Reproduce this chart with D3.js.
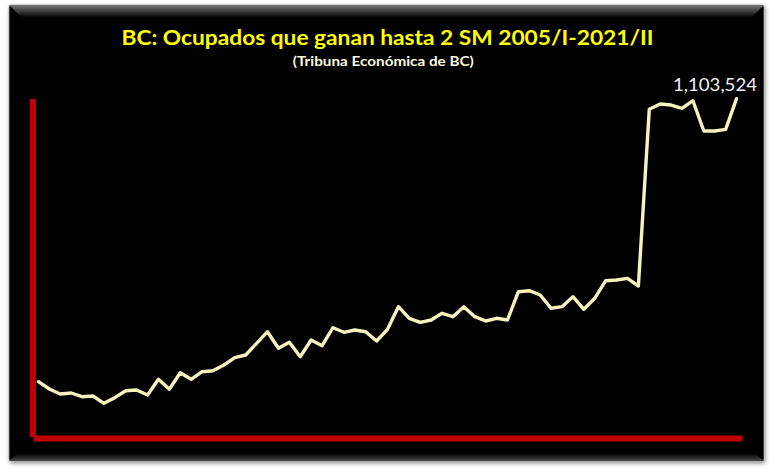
<!DOCTYPE html>
<html lang="es">
<head>
<meta charset="utf-8">
<title>BC: Ocupados que ganan hasta 2 SM</title>
<script src="https://cdn.jsdelivr.net/npm/d3@7"></script>
<style>
  html, body { margin: 0; padding: 0; background: #ffffff; }
  svg { display: block; }
</style>
</head>
<body>
<div id="chart"></div>
<script>
// trimestres 2005/I - 2021/II (no hay dato de 2020/II)
const periodos = [
  "2005/I","2005/II","2005/III","2005/IV",
  "2006/I","2006/II","2006/III","2006/IV",
  "2007/I","2007/II","2007/III","2007/IV",
  "2008/I","2008/II","2008/III","2008/IV",
  "2009/I","2009/II","2009/III","2009/IV",
  "2010/I","2010/II","2010/III","2010/IV",
  "2011/I","2011/II","2011/III","2011/IV",
  "2012/I","2012/II","2012/III","2012/IV",
  "2013/I","2013/II","2013/III","2013/IV",
  "2014/I","2014/II","2014/III","2014/IV",
  "2015/I","2015/II","2015/III","2015/IV",
  "2016/I","2016/II","2016/III","2016/IV",
  "2017/I","2017/II","2017/III","2017/IV",
  "2018/I","2018/II","2018/III","2018/IV",
  "2019/I","2019/II","2019/III","2019/IV",
  "2020/I","2020/III","2020/IV",
  "2021/I","2021/II"
];

// ocupados que ganan hasta 2 salarios minimos (estimado de la grafica)
const ocupados = [
  347700, 328200, 314800, 317500,
  307600, 309500, 290000, 305000,
  323600, 325500, 312200, 354100,
  327400, 371700, 354100, 374400,
  377100, 392300, 411800, 419000,
  450200, 481200, 436900, 452900,
  414400, 459000, 443800, 491900,
  479600, 485800, 481200, 456400,
  487600, 548000, 517000, 506300,
  512500, 530400, 521300, 548000,
  521300, 509800, 517000, 512500,
  588000, 590700, 579200, 543700,
  548000, 574700, 541000, 570400,
  617400, 619300, 623800, 603300,
  1075200, 1089300, 1086600, 1077800,
  1098100, 1017200, 1017200,
  1021700, 1103524
];

const yDominio = [200000, 1100000];

const W = 774, H = 474;

const svg = d3.select("#chart").append("svg")
  .attr("width", W)
  .attr("height", H);

const defs = svg.append("defs");

defs.append("filter")
  .attr("id", "sombra")
  .attr("x", "-5%").attr("y", "-5%")
  .attr("width", "110%").attr("height", "110%")
  .append("feDropShadow")
  .attr("dx", 1).attr("dy", 2)
  .attr("stdDeviation", 2)
  .attr("flood-color", "#000")
  .attr("flood-opacity", 0.45);

const gTop = defs.append("linearGradient")
  .attr("id", "biselArriba")
  .attr("x1", 0).attr("y1", 0).attr("x2", 0).attr("y2", 1);
gTop.append("stop").attr("offset", "0%").attr("stop-color", "#7a7a7a");
gTop.append("stop").attr("offset", "100%").attr("stop-color", "#050505");

const gBot = defs.append("linearGradient")
  .attr("id", "biselAbajo")
  .attr("x1", 0).attr("y1", 0).attr("x2", 0).attr("y2", 1);
gBot.append("stop").attr("offset", "0%").attr("stop-color", "#050505");
gBot.append("stop").attr("offset", "100%").attr("stop-color", "#4a4a4a");

// marco negro con bisel
const box = {x0: 9, y0: 5, x1: 764, y1: 461};

svg.append("rect")
  .attr("x", box.x0).attr("y", box.y0)
  .attr("width", box.x1 - box.x0).attr("height", box.y1 - box.y0)
  .attr("rx", 2)
  .attr("fill", "#050505")
  .attr("stroke", "#9a9a9a")
  .attr("stroke-width", 0.8)
  .attr("filter", "url(#sombra)");

svg.append("path")
  .attr("d", `M${box.x0},${box.y0} L${box.x1},${box.y0} L${box.x1 - 12},${box.y0 + 12} L${box.x0 + 12},${box.y0 + 12} Z`)
  .attr("fill", "url(#biselArriba)");

svg.append("path")
  .attr("d", `M${box.x0 + 8},${box.y1 - 7} L${box.x1 - 8},${box.y1 - 7} L${box.x1},${box.y1} L${box.x0},${box.y1} Z`)
  .attr("fill", "url(#biselAbajo)");

// escalas
const x = d3.scalePoint()
  .domain(periodos)
  .range([33, 742])
  .padding(0.5);

const y = d3.scaleLinear()
  .domain(yDominio)
  .range([437, 100]);

// ejes rojos sin marcas
const yAxis = d3.axisLeft(y).tickValues([]).tickSizeOuter(0);
const xAxis = d3.axisBottom(x).tickValues([]).tickSizeOuter(0);

svg.append("g")
  .attr("class", "axis y-axis")
  .attr("transform", "translate(33,0)")
  .call(yAxis)
  .call(g => g.select(".domain")
    .attr("stroke", "#c00000")
    .attr("stroke-width", 6)
    .attr("d", `M0,${y.range()[0]}V99`));

svg.append("g")
  .attr("class", "axis x-axis")
  .attr("transform", `translate(0,${y.range()[0] + 1})`)
  .call(xAxis)
  .call(g => g.select(".domain")
    .attr("stroke", "#c00000")
    .attr("stroke-width", 6));

// linea
const datos = periodos.map((p, i) => ({p: p, v: ocupados[i]}));

const line = d3.line()
  .x(d => x(d.p))
  .y(d => y(d.v));

svg.append("path")
  .datum(datos)
  .attr("fill", "none")
  .attr("stroke", "#f8f3bd")
  .attr("stroke-width", 3.4)
  .attr("stroke-linejoin", "round")
  .attr("stroke-linecap", "round")
  .attr("d", line);

// etiqueta del ultimo dato
const ultimo = datos[datos.length - 1];
svg.append("text")
  .attr("x", 757)
  .attr("y", y(ultimo.v) - 8)
  .attr("text-anchor", "end")
  .attr("font-family", "Lato, 'Open Sans', sans-serif")
  .attr("font-size", "18px")
  .attr("fill", "#f0f0f0")
  .attr("textLength", 84)
  .attr("lengthAdjust", "spacingAndGlyphs")
  .text(d3.format(",")(ultimo.v));

// titulos
svg.append("text")
  .attr("x", 387.5)
  .attr("y", 45)
  .attr("text-anchor", "middle")
  .attr("font-family", "Lato, 'Open Sans', sans-serif")
  .attr("font-weight", "bold")
  .attr("font-size", "21px")
  .attr("fill", "#ffff00")
  .attr("textLength", 532)
  .attr("lengthAdjust", "spacingAndGlyphs")
  .text("BC: Ocupados que ganan hasta 2 SM 2005/I-2021/II");

svg.append("text")
  .attr("x", 383.3)
  .attr("y", 66)
  .attr("text-anchor", "middle")
  .attr("font-family", "Lato, 'Open Sans', sans-serif")
  .attr("font-weight", "bold")
  .attr("font-size", "13px")
  .attr("fill", "#fdfbe0")
  .attr("textLength", 181)
  .attr("lengthAdjust", "spacingAndGlyphs")
  .text("(Tribuna Económica de BC)");
</script>
</body>
</html>
